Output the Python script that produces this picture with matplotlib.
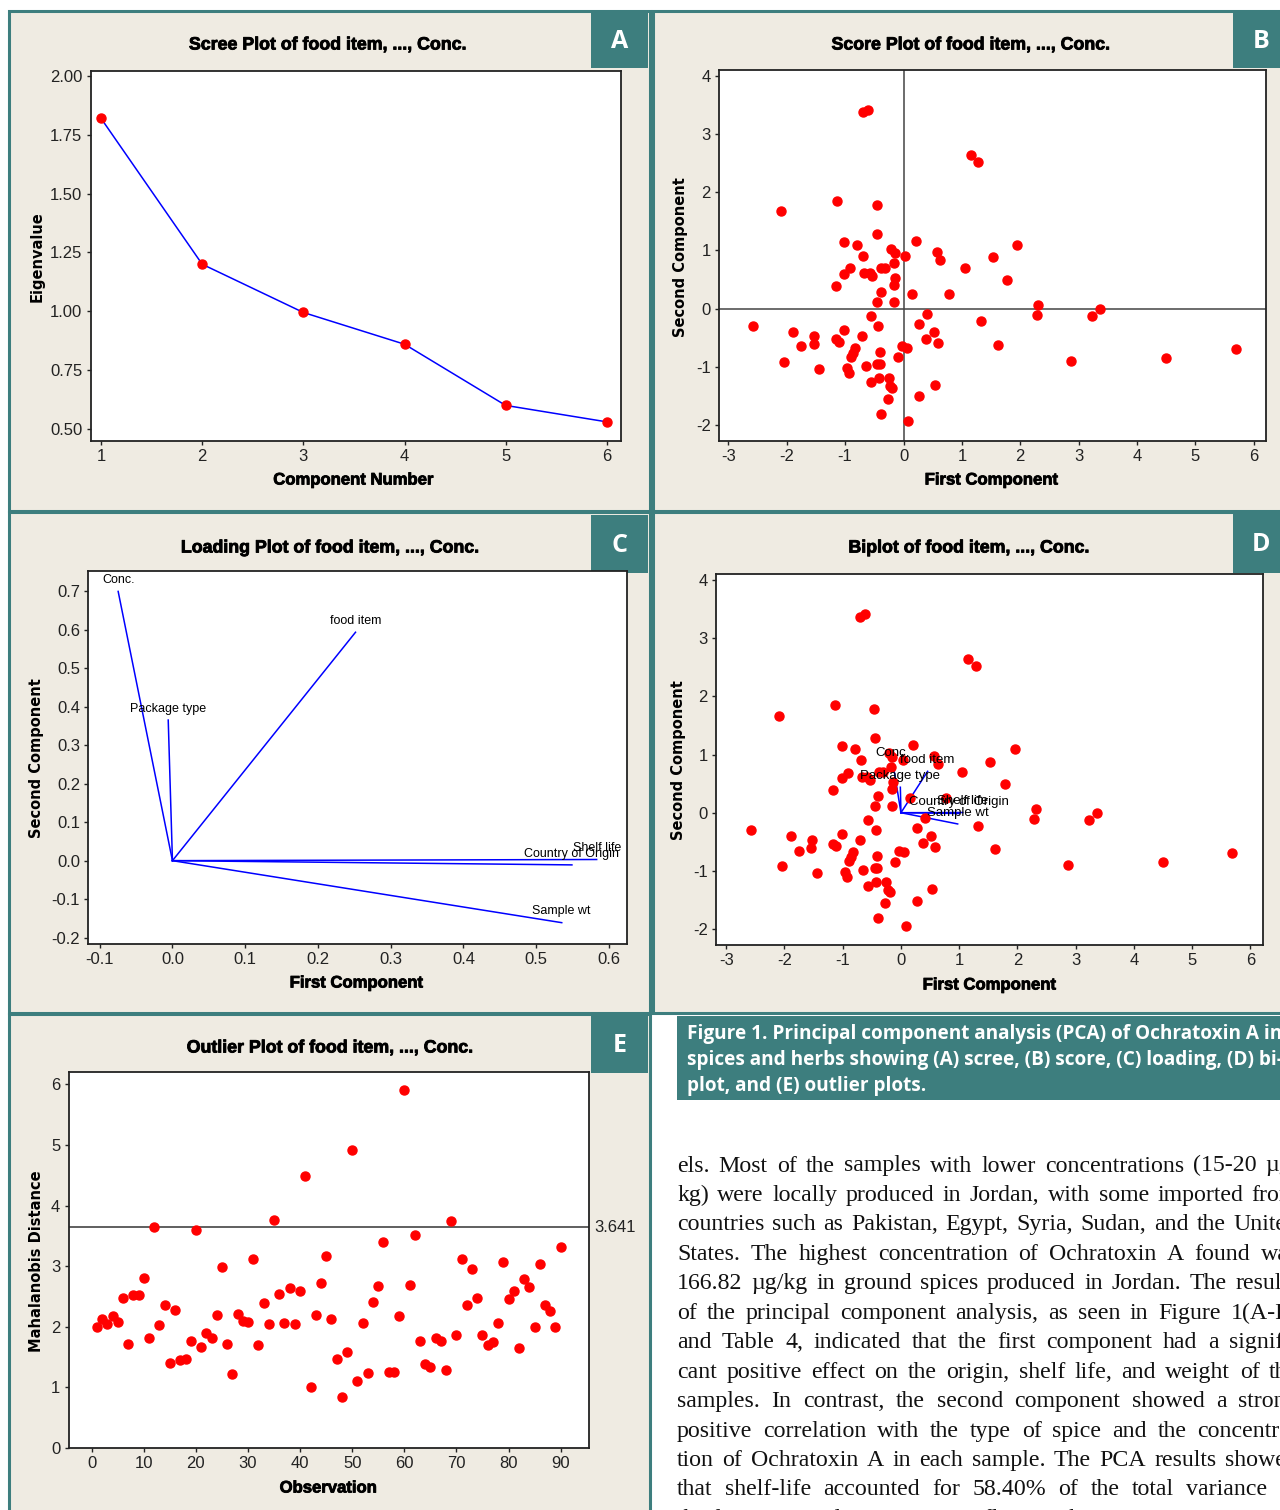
import matplotlib
matplotlib.use("Agg")
import matplotlib.pyplot as plt
import matplotlib.patheffects as pe
from matplotlib.patches import Rectangle
from matplotlib.transforms import blended_transform_factory

plt.rcParams['axes.unicode_minus'] = False

# ---------------- data ----------------
component_number = [1, 2, 3, 4, 5, 6]
eigenvalue = [1.82, 1.20, 0.995, 0.86, 0.60, 0.53]

score_pc1 = [-2.57, -2.09, -2.05, -1.89, -1.75, -1.53, -1.54, -1.44, -1.14, -1.16,
             -1.16, -1.11, -1.02, -1.02, -1.02, -0.96, -0.93, -0.91, -0.90, -0.86,
             -0.83, -0.79, -0.71, -0.70, -0.61, -0.69, -0.67, -0.65, -0.58, -0.54,
             -0.56, -0.56, -0.46, -0.45, -0.45, -0.43, -0.45, -0.41, -0.41, -0.42,
             -0.39, -0.39, -0.38, -0.31, -0.27, -0.25, -0.23, -0.19, -0.21, -0.15,
             -0.17, -0.14, -0.16, -0.16, -0.10, -0.03, 0.03, 0.06, 0.08, 0.15,
             0.21, 0.27, 0.27, 0.38, 0.41, 0.52, 0.54, 0.57, 0.59, 0.63,
             0.78, 1.05, 1.15, 1.28, 1.32, 1.53, 1.61, 1.78, 1.95, 2.28,
             2.31, 2.87, 3.23, 3.37, 4.50, 5.69]
score_pc2 = [-0.30, 1.67, -0.92, -0.40, -0.65, -0.47, -0.61, -1.03, 1.85, 0.39,
             -0.53, -0.58, 1.15, 0.59, -0.36, -1.02, -1.10, 0.69, -0.83, -0.76,
             -0.67, 1.10, -0.47, 3.37, 3.41, 0.91, 0.62, -0.99, 0.62, 0.56,
             -0.13, -1.26, 1.78, 1.28, 0.11, -0.30, -0.95, -0.74, -0.95, -1.19,
             -1.81, 0.29, 0.70, 0.70, -1.55, -1.20, -1.33, -1.36, 1.02, 0.96,
             0.79, 0.53, 0.40, 0.11, -0.84, -0.65, 0.90, -0.68, -1.94, 0.25,
             1.17, -0.27, -1.51, -0.52, -0.09, -0.40, -1.31, 0.97, -0.59, 0.83,
             0.25, 0.70, 2.64, 2.52, -0.22, 0.88, -0.63, 0.49, 1.10, -0.11,
             0.07, -0.90, -0.13, 0.00, -0.85, -0.70]

loading_names = ["food item", "Package type", "Conc.", "Shelf life", "Country of Origin", "Sample wt"]
loading_pc1 = [0.2516, -0.0058, -0.0746, 0.583, 0.549, 0.535]
loading_pc2 = [0.593, 0.365, 0.699, 0.003, -0.011, -0.161]

observation = list(range(1, 91))
mahalanobis = [1.99, 2.13, 2.04, 2.18, 2.08, 2.48, 1.71, 2.52, 2.53, 2.80,
               1.82, 3.65, 2.02, 2.35, 1.40, 2.28, 1.45, 1.47, 1.77, 3.60,
               1.66, 1.89, 1.82, 2.19, 2.98, 1.72, 1.21, 2.21, 2.10, 2.08,
               3.12, 1.69, 2.39, 2.04, 3.76, 2.54, 2.06, 2.63, 2.04, 2.58,
               4.48, 1.01, 2.19, 2.72, 3.17, 2.12, 1.47, 0.84, 1.58, 4.92,
               1.10, 2.06, 1.23, 2.41, 2.67, 3.39, 1.25, 1.25, 2.17, 5.90,
               2.69, 3.52, 1.76, 1.38, 1.33, 1.82, 1.77, 1.29, 3.74, 1.86,
               3.11, 2.35, 2.95, 2.48, 1.86, 1.69, 1.74, 2.06, 3.07, 2.46,
               2.58, 1.65, 2.78, 2.65, 1.99, 3.04, 2.35, 2.25, 1.99, 3.31]
cutoff = 3.641

caption_lines = [
    "Figure 1. Principal component analysis (PCA) of Ochratoxin A in",
    "spices and herbs showing (A) scree, (B) score, (C) loading, (D) bi-",
    "plot, and (E) outlier plots.",
]
body_lines = [
    "els. Most of the samples with lower concentrations (15-20 \u00b5g/",
    "kg) were locally produced in Jordan, with some imported from",
    "countries such as Pakistan, Egypt, Syria, Sudan, and the United",
    "States. The highest concentration of Ochratoxin A found was",
    "166.82 \u00b5g/kg in ground spices produced in Jordan. The results",
    "of the principal component analysis, as seen in Figure 1(A-E)",
    "and Table 4, indicated that the first component had a signifi-",
    "cant positive effect on the origin, shelf life, and weight of the",
    "samples. In contrast, the second component showed a strong",
    "positive correlation with the type of spice and the concentra-",
    "tion of Ochratoxin A in each sample. The PCA results showed",
    "that shelf-life accounted for 58.40% of the total variance in",
]
body_last = "the first principal component, reflecting the"

# ---------------- style ----------------
W, H = 1280, 1510
TEAL = '#3d7e7e'
BEIGE = '#efebe2'
NARROW = ['Liberation Sans', 'DejaVu Sans']
WIDE = ['DejaVu Sans']
CAPTION = ['Open Sans', 'DejaVu Sans']
HEAVY = [pe.withStroke(linewidth=0.6, foreground='black')]

fig = plt.figure(figsize=(W / 100, H / 100), dpi=100)
fig.patch.set_facecolor('white')

bg = fig.add_axes([0, 0, 1, 1])
bg.set_xlim(0, W)
bg.set_ylim(H, 0)
bg.axis('off')

# panel frames (x0, y0, x1, y1) and label boxes
panels = {
    'A': (9, 10.5, 650, 511),
    'B': (652.5, 10.5, 1292, 511),
    'C': (9, 512, 650, 1012.5),
    'D': (652.5, 512, 1292, 1012.5),
    'E': (9, 1013.5, 650, 1525),
}
label_boxes = {
    'A': (591, 12, 648, 68),
    'B': (1233, 12, 1290, 68),
    'C': (591, 515, 648, 573),
    'D': (1233, 514, 1290, 573),
    'E': (591, 1016, 648, 1073),
}
for key, (x0, y0, x1, y1) in panels.items():
    bg.add_patch(Rectangle((x0, y0), x1 - x0, y1 - y0, facecolor=BEIGE,
                           edgecolor=TEAL, lw=2.2))
for key, (x0, y0, x1, y1) in label_boxes.items():
    bg.add_patch(Rectangle((x0, y0), x1 - x0, y1 - y0, facecolor=TEAL, edgecolor='none'))
    bg.text((x0 + x1) / 2, (y0 + y1) / 2 + 1, key, color='white', fontsize=18,
            fontweight='bold', family=CAPTION, ha='center', va='center')

# titles, axis labels
titles = [
    (328, 45, "Scree Plot of food item, ..., Conc."),
    (971, 45, "Score Plot of food item, ..., Conc."),
    (330, 548, "Loading Plot of food item, ..., Conc."),
    (969, 548, "Biplot of food item, ..., Conc."),
    (330, 1048, "Outlier Plot of food item, ..., Conc."),
]
for x, y, t in titles:
    bg.text(x, y, t, fontsize=12.8, fontweight='bold', family=NARROW, ha='center',
            va='center', path_effects=HEAVY)

xlabels = [
    (353, 480, "Component Number"),
    (991, 480, "First Component"),
    (356, 983, "First Component"),
    (989, 985, "First Component"),
    (328, 1488, "Observation"),
]
for x, y, t in xlabels:
    bg.text(x, y, t, fontsize=12, fontweight='bold', family=NARROW, ha='center',
            va='center', path_effects=HEAVY)

ylabels = [
    (37, 257, "Eigenvalue"),
    (680, 257, "Second Component"),
    (37, 758, "Second Component"),
    (678, 760, "Second Component"),
    (37, 1261, "Mahalanobis Distance"),
]
for x, y, t in ylabels:
    bg.text(x, y, t, fontsize=10.5, fontweight='bold', family=WIDE, ha='center',
            va='center', rotation=90)

# caption box
bg.add_patch(Rectangle((677, 1016), 620, 84, facecolor=TEAL, edgecolor='none'))
for i, line in enumerate(caption_lines):
    bg.text(687, 1039.5 + 26 * i, line, color='white', fontsize=13.7, fontweight='bold',
            family=CAPTION, ha='left', va='baseline')

# justified body text
renderer = fig.canvas.get_renderer()
BODY_FONT = dict(fontsize=17.2, family=['Liberation Serif', 'DejaVu Serif'], color='#111111')
col_left, col_right = 677, 1298
for i, line in enumerate(body_lines):
    y = 1171.5 + 29.45 * i
    words = line.split(' ')
    widths = []
    for w in words:
        t = bg.text(0, 0, w, **BODY_FONT)
        widths.append(t.get_window_extent(renderer).width)
        t.remove()
    gap = (col_right - col_left - sum(widths)) / (len(words) - 1)
    x = col_left
    for w, wd in zip(words, widths):
        bg.text(x, y, w, ha='left', va='baseline', **BODY_FONT)
        x += wd + gap
bg.text(col_left, 1171.5 + 29.45 * len(body_lines), body_last, ha='left', va='baseline', **BODY_FONT)


def px_axes(l, t, r, b):
    return fig.add_axes([l / W, 1 - b / H, (r - l) / W, (b - t) / H])


def style(ax):
    ax.set_facecolor('white')
    for s in ax.spines.values():
        s.set_color('#222222')
        s.set_linewidth(1.3)
    ax.tick_params(direction='out', length=3, width=1, labelsize=12, pad=3, colors='#222222')
    for lab in ax.get_xticklabels() + ax.get_yticklabels():
        lab.set_family(NARROW)


# A: scree plot
ax = px_axes(90.5, 70.7, 621, 440.7)
ax.plot(component_number, eigenvalue, color='#0000ff', lw=1.1, marker='o', ms=6.5,
        mfc='#ff0000', mec='#ff0000', zorder=3)
ax.set_xlim(0.896, 6.14)
ax.set_ylim(0.45, 2.0225)
ax.set_xticks(component_number)
ax.set_yticks([0.5, 0.75, 1.0, 1.25, 1.5, 1.75, 2.0])
ax.set_yticklabels(["%.2f" % v for v in [0.5, 0.75, 1.0, 1.25, 1.5, 1.75, 2.0]])
style(ax)

# B: score plot
ax = px_axes(719, 70, 1265.5, 440.7)
ax.axhline(0, color='#444444', lw=1.1, zorder=1)
ax.axvline(0, color='#444444', lw=1.1, zorder=1)
ax.plot(score_pc1, score_pc2, 'o', ms=6.5, color='#ff0000', zorder=3)
ax.set_xlim(-3.16, 6.2)
ax.set_ylim(-2.27, 4.10)
ax.set_xticks(range(-3, 7))
ax.set_yticks(range(-2, 5))
style(ax)

# C: loading plot
ax = px_axes(88.4, 571, 627, 943.7)
for name, lx, ly in zip(loading_names, loading_pc1, loading_pc2):
    ax.plot([0, lx], [0, ly], color='#0000ff', lw=1.1)
    ax.annotate(name, (lx, ly), xytext=(0, 6), textcoords='offset points',
                ha='center', va='baseline', fontsize=9, family=NARROW)
ax.set_xlim(-0.1155, 0.6247)
ax.set_ylim(-0.2156, 0.752)
ax.set_xticks([-0.1, 0.0, 0.1, 0.2, 0.3, 0.4, 0.5, 0.6])
ax.set_xticklabels(["%.1f" % v for v in [-0.1, 0.0, 0.1, 0.2, 0.3, 0.4, 0.5, 0.6]])
yt = [-0.2, -0.1, 0.0, 0.1, 0.2, 0.3, 0.4, 0.5, 0.6, 0.7]
ax.set_yticks(yt)
ax.set_yticklabels(["%.1f" % v for v in yt])
style(ax)

# D: biplot (loading vectors scaled by eigenvalue)
ax = px_axes(716.3, 574.3, 1262.7, 945)
for name, lx, ly in zip(loading_names, loading_pc1, loading_pc2):
    vx, vy = lx * eigenvalue[0], ly * eigenvalue[1]
    ax.plot([0, vx], [0, vy], color='#0000ff', lw=1.1, zorder=2)
    ax.annotate(name, (vx, vy), xytext=(0, 6), textcoords='offset points',
                ha='center', va='baseline', fontsize=9.5, family=NARROW, zorder=4)
ax.plot(score_pc1, score_pc2, 'o', ms=6.5, color='#ff0000', zorder=3)
ax.set_xlim(-3.17, 6.21)
ax.set_ylim(-2.275, 4.10)
ax.set_xticks(range(-3, 7))
ax.set_yticks(range(-2, 5))
style(ax)

# E: outlier plot
ax = px_axes(68.6, 1072.3, 589, 1447.7)
ax.axhline(cutoff, color='#444444', lw=1.2, zorder=1)
ax.plot(observation, mahalanobis, 'o', ms=6.5, color='#ff0000', zorder=3)
ax.text(1.01, cutoff, "%.3f" % cutoff, transform=blended_transform_factory(ax.transAxes, ax.transData),
        ha='left', va='center', fontsize=12, family=NARROW, color='#222222')
ax.set_xlim(-4.44, 95.45)
ax.set_ylim(0, 6.2)
ax.set_xticks(range(0, 91, 10))
ax.set_yticks(range(0, 7))
style(ax)

fig.savefig('out.png', dpi=100)
